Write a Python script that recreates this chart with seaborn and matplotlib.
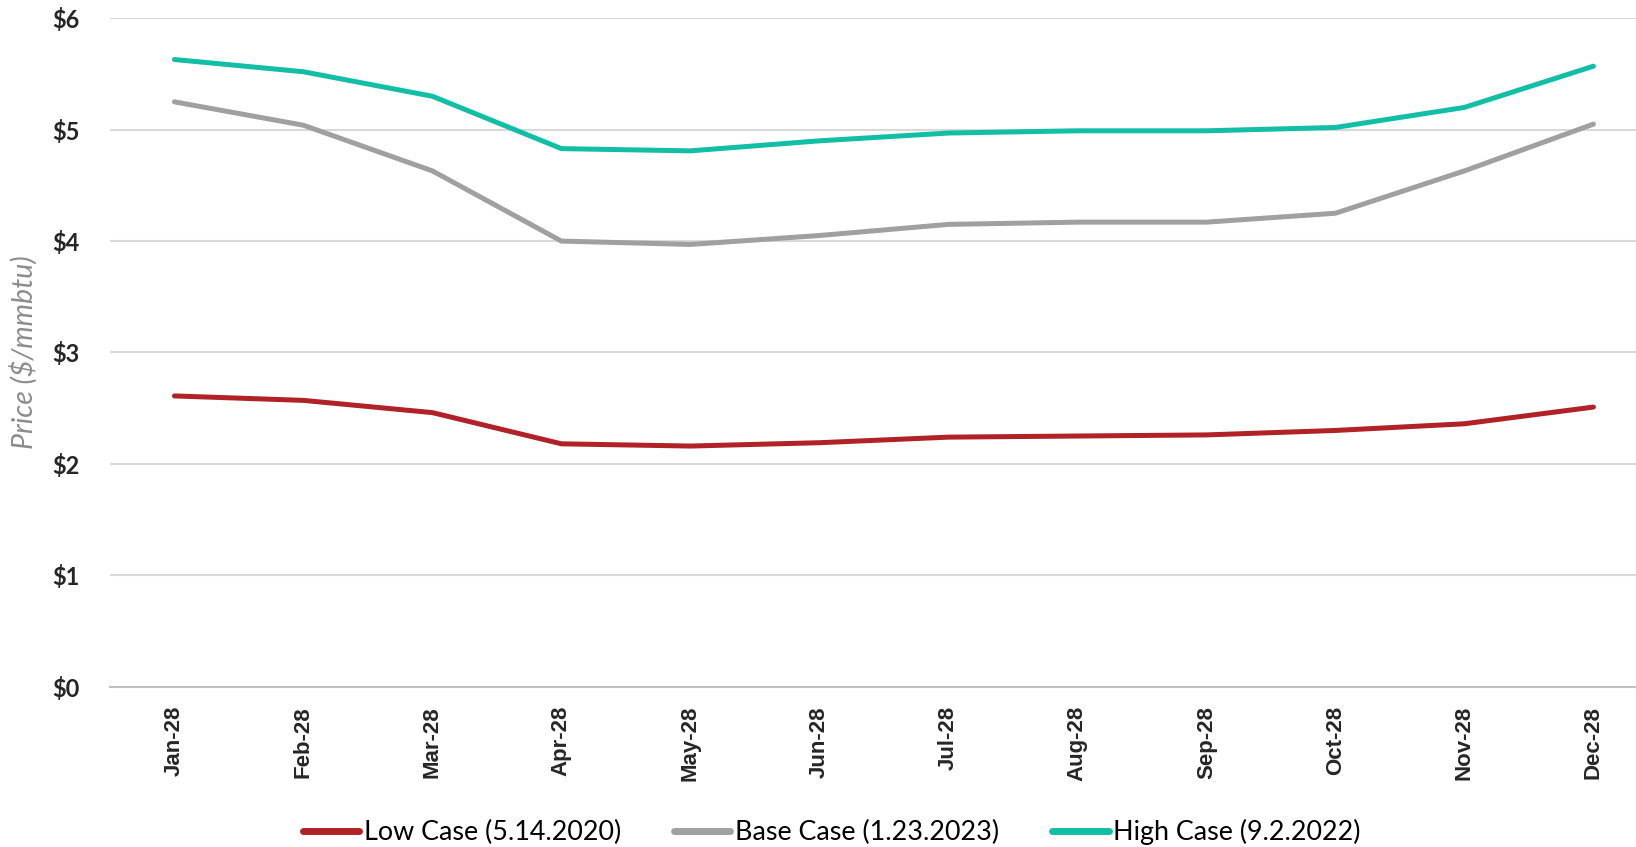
import matplotlib
matplotlib.use("Agg")
from matplotlib import pyplot as plt
import pandas as pd
import seaborn as sns

months = ["Jan-28", "Feb-28", "Mar-28", "Apr-28", "May-28", "Jun-28",
          "Jul-28", "Aug-28", "Sep-28", "Oct-28", "Nov-28", "Dec-28"]
low_case = [2.61, 2.57, 2.46, 2.18, 2.16, 2.19, 2.24, 2.25, 2.26, 2.30, 2.36, 2.51]
base_case = [5.25, 5.04, 4.63, 4.00, 3.97, 4.05, 4.15, 4.17, 4.17, 4.25, 4.63, 5.05]
high_case = [5.63, 5.52, 5.30, 4.83, 4.81, 4.90, 4.97, 4.99, 4.99, 5.02, 5.20, 5.57]
series_names = ["Low Case (5.14.2020)", "Base Case (1.23.2023)", "High Case (9.2.2022)"]
y_ticks = [0, 1, 2, 3, 4, 5, 6]

colors = ["#B02226", "#A0A0A0", "#12BFA6"]

# long-form table for seaborn
frames = []
for name, vals in zip(series_names, [low_case, base_case, high_case]):
    frames.append(pd.DataFrame({"idx": range(len(months)), "price": vals, "case": name}))
df = pd.concat(frames, ignore_index=True)

sns.set_style("white")
plt.rcParams["font.family"] = ["Lato", "DejaVu Sans"]

fig = plt.figure(figsize=(16.36, 8.47), dpi=100)
# axes run slightly past the right edge, like the cropped original
ax = fig.add_axes([0.0672, 0.1893, 0.9462, 0.7891])

sns.lineplot(
    data=df, x="idx", y="price", hue="case", hue_order=series_names,
    palette=colors, linewidth=3.6, solid_capstyle="round", ax=ax, legend=False,
)

ax.set_xlim(-0.5, len(months) - 0.5)
ax.set_ylim(0, 6)

# y axis
ax.set_yticks(y_ticks)
ax.set_yticklabels([f"${v}" for v in y_ticks], fontsize=17, fontweight="bold")
ax.tick_params(axis="y", length=0, pad=22)
ax.yaxis.grid(True, color="#D9D9D9", linewidth=1.5)
ax.set_ylabel("Price ($/mmbtu)", fontsize=20.5, style="italic", color="#8C8C8C", labelpad=10)

# x axis: labels on categories, tick marks between them
ax.set_xticks(range(len(months)))
ax.set_xticklabels(months, rotation=90, fontsize=16, fontweight="bold",
                   family=["Liberation Sans", "DejaVu Sans"])
ax.set_xticks([i - 0.5 for i in range(len(months) + 1)], minor=True)
ax.tick_params(axis="x", which="major", length=0, pad=14)
ax.tick_params(axis="x", which="minor", length=6, color="#BFBFBF", width=1.5, direction="out")
ax.set_xlabel("")

sns.despine(ax=ax, left=True, top=True, right=True)
ax.spines["bottom"].set_color("#BFBFBF")
ax.spines["bottom"].set_linewidth(1.5)

handles = [plt.Line2D([], [], color=c, linewidth=5) for c in colors]
fig.legend(handles, series_names, loc="center", bbox_to_anchor=(832 / 1636, 1 - 832 / 847),
           ncol=3, frameon=False, fontsize=19.4, handlelength=2.08, handletextpad=0.18,
           columnspacing=1.97, labelcolor="black")

fig.savefig("out.png", dpi=100)
